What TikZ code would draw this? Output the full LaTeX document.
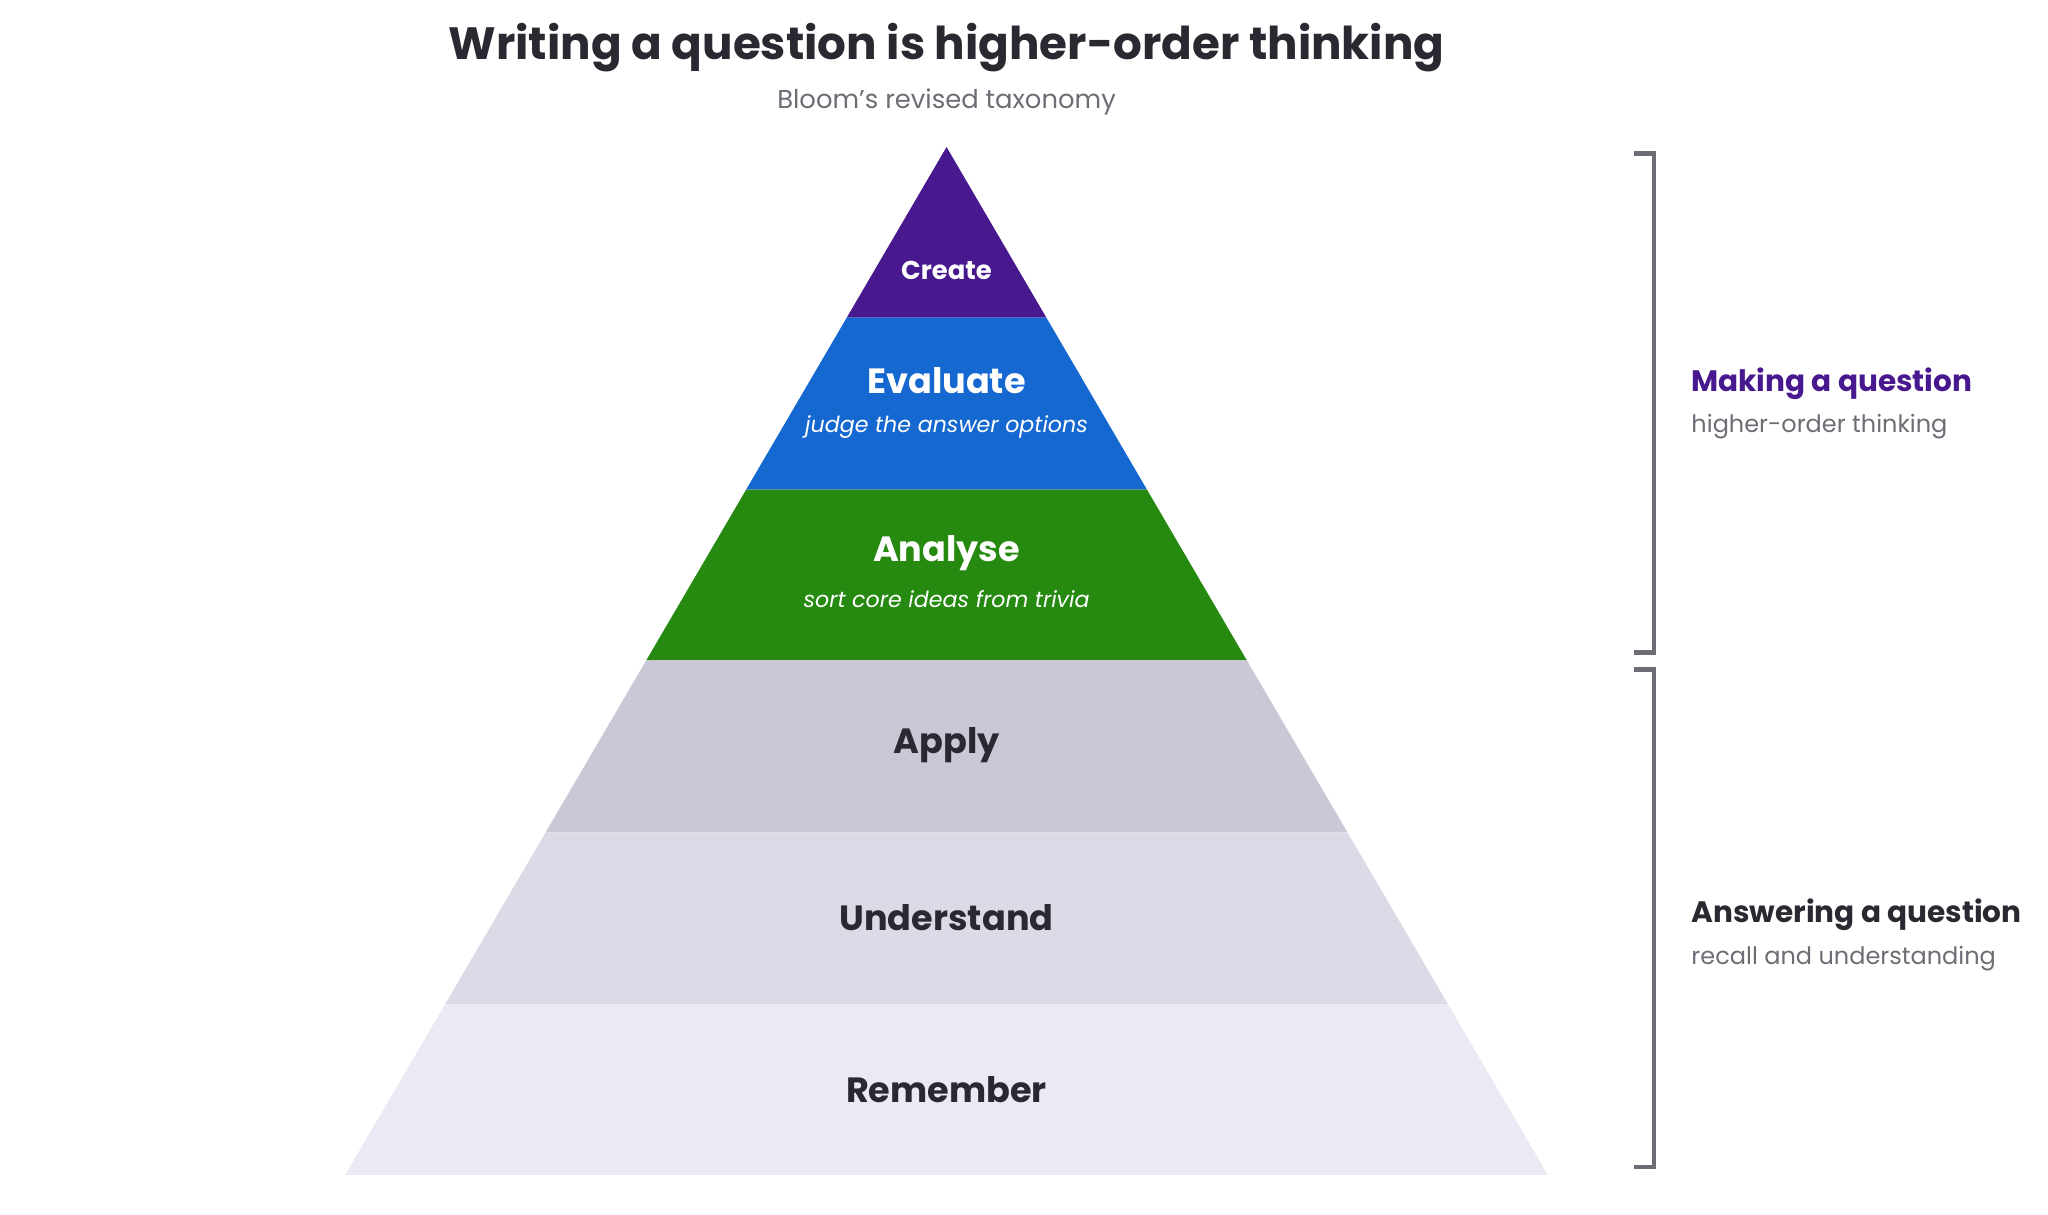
\documentclass[tikz,border=0pt]{standalone}
\usepackage{fontspec}
\setmainfont{Poppins}
\usetikzlibrary{positioning}
\definecolor{createc}{HTML}{48188F}
\definecolor{evalc}{HTML}{1468D0}
\definecolor{analc}{HTML}{268A10}
\definecolor{applyc}{HTML}{CBC7D6}
\definecolor{undc}{HTML}{DCDAE6}
\definecolor{remc}{HTML}{EBEAF4}
\definecolor{inkc}{HTML}{2A2830}
\definecolor{greyc}{HTML}{6E6C74}
\begin{document}
\begin{tikzpicture}[x=0.01cm, y=-0.01cm,
    lvl/.style={font=\bfseries\fontsize{7.6}{9}\selectfont},
    sub/.style={font=\itshape\fontsize{4.8}{6}\selectfont, text=white},
    side/.style={font=\bfseries\fontsize{6.4}{8}\selectfont, anchor=west},
    note/.style={font=\fontsize{5.2}{6}\selectfont, text=greyc, anchor=west},
    bracket/.style={draw=greyc, line width=1pt}
    ]
\useasboundingbox (0,0) rectangle (1560,925);
% layers
\foreach \t/\b/\c in {112/242/createc, 242/373/evalc, 373/503/analc,
                      503/634/applyc, 634/765/undc, 765/895/remc}{
  \fill[\c] ({721-0.585*(\t-112)},\t) -- ({721+0.585*(\t-112)},\t)
     -- ({721+0.585*(\b-112)},\b) -- ({721-0.585*(\b-112)},\b) -- cycle;
}
% titles
\node[font=\bfseries\fontsize{9.8}{12}\selectfont, text=inkc] (title) at (721,36) {Writing a question is higher-order thinking};
\node[font=\fontsize{5.6}{7}\selectfont, text=greyc] (subtitle) at (721,78) {Bloom's revised taxonomy};
% level labels
\node[lvl, text=white, font=\bfseries\fontsize{5.6}{7}\selectfont] (create) at (721,206) {Create};
\node[lvl, text=white] (evaluate) at (721,290) {Evaluate};
\node[sub] (evalsub) at (721,325) {judge the answer options};
\node[lvl, text=white] (analyse) at (721,421) {Analyse};
\node[sub] (analsub) at (721,456) {sort core ideas from trivia};
\node[lvl, text=inkc] (apply) at (721,568) {Apply};
\node[lvl, text=inkc] (understand) at (721,699) {Understand};
\node[lvl, text=inkc] (remember) at (721,830) {Remember};
% brackets
\draw[bracket] (1245,117) -- (1260,117) -- (1260,497) -- (1245,497);
\draw[bracket] (1245,510) -- (1260,510) -- (1260,889) -- (1245,889);
\node[side, text=createc] (making) at (1276,292) {Making a question};
\node[note] (makingsub) at (1276,325) {higher-order thinking};
\node[side, text=inkc] (answering) at (1276,697) {Answering a question};
\node[note] (answeringsub) at (1276,730) {recall and understanding};
\end{tikzpicture}
\end{document}
